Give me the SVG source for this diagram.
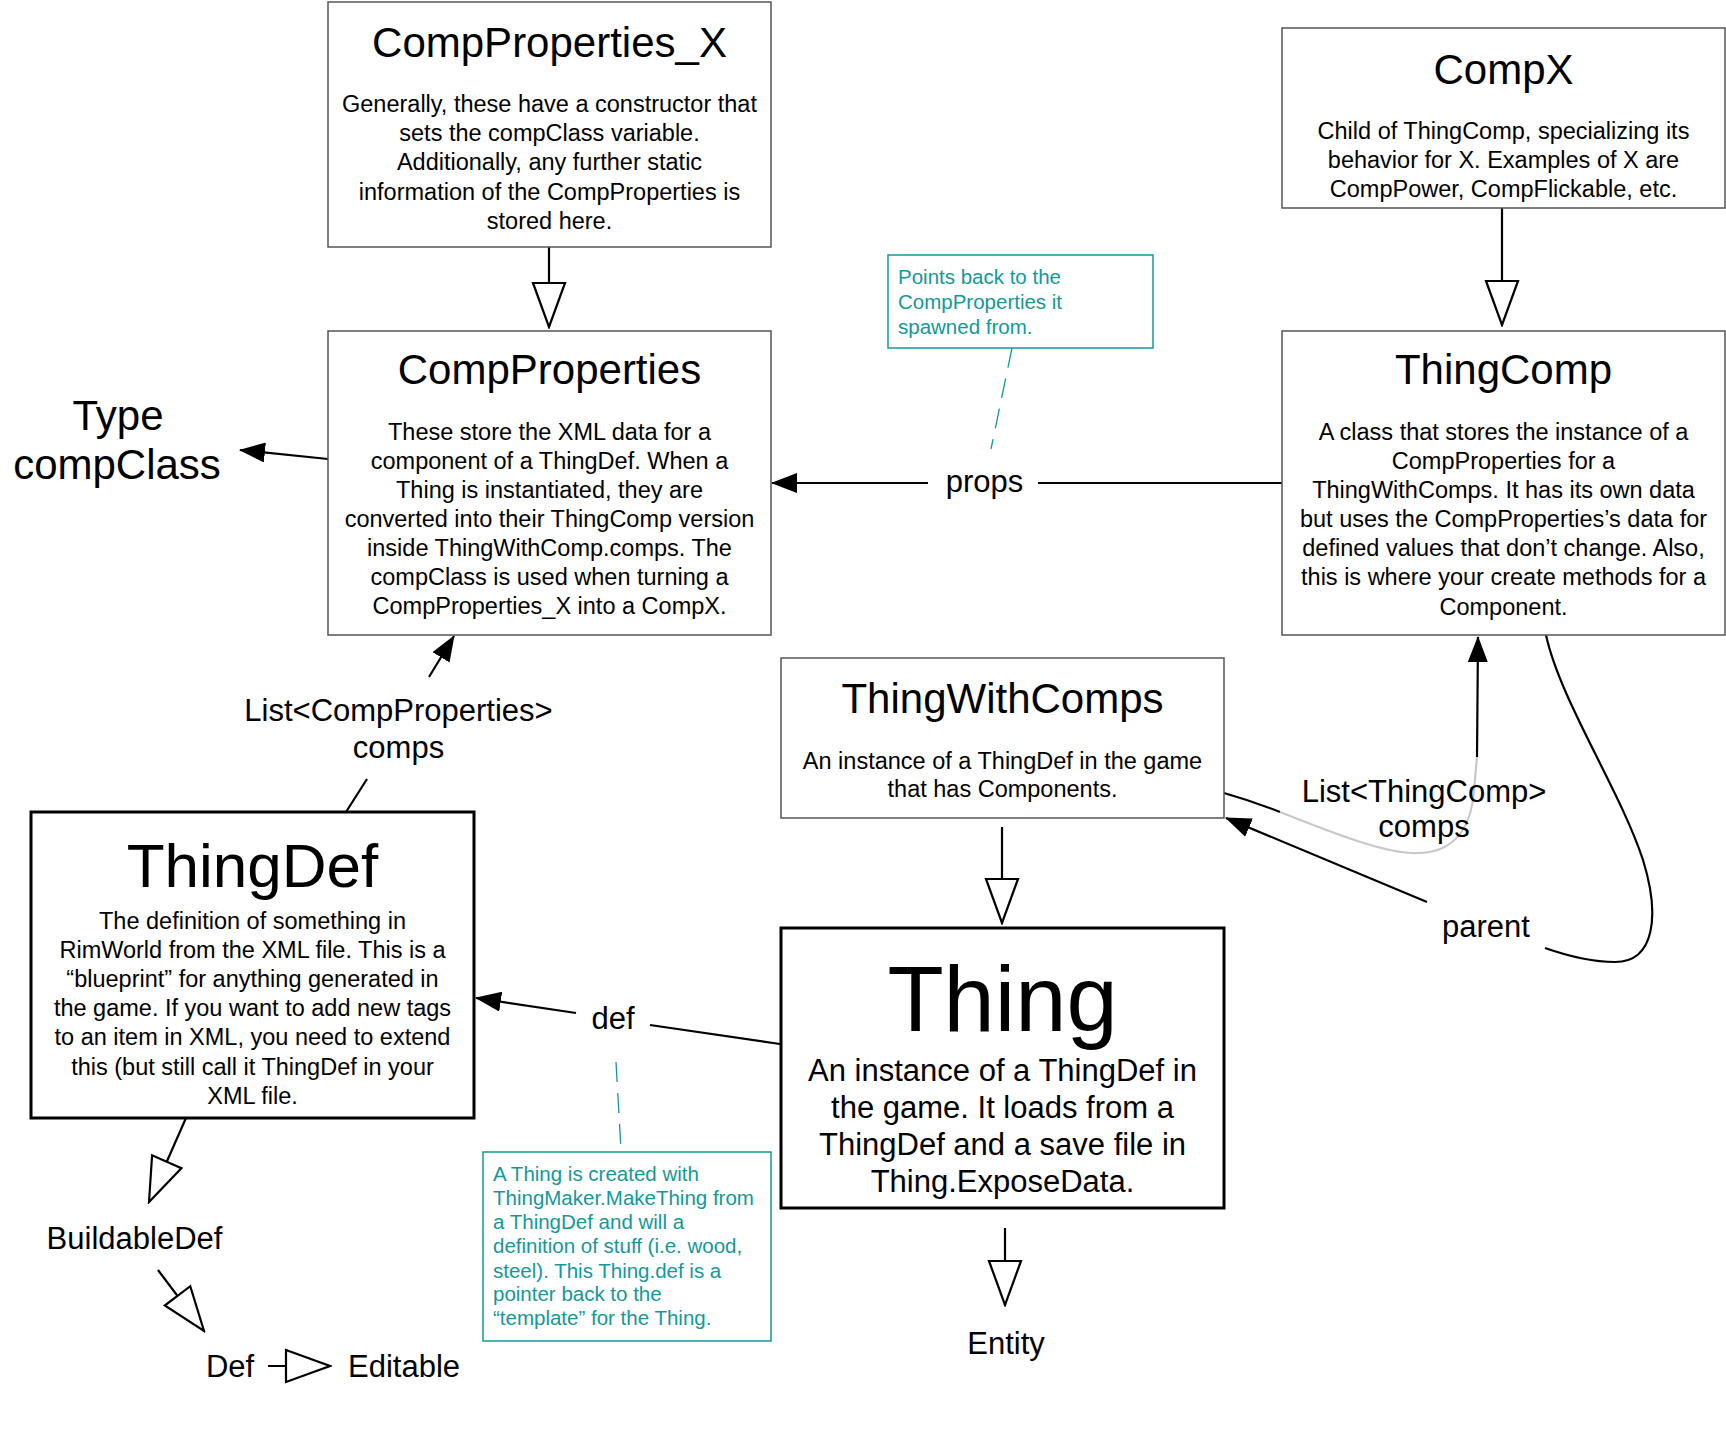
<svg xmlns="http://www.w3.org/2000/svg" width="1726" height="1432" viewBox="0 0 1726 1432">
<style>
text{font-family:"Liberation Sans",Arial,Helvetica,sans-serif;fill:#000}
.box{fill:#fff;stroke:#555;stroke-width:1.5}
.bold{fill:#fff;stroke:#000;stroke-width:3}
.title{font-size:42px;text-anchor:middle}
.body{font-size:23.5px;text-anchor:middle}
.lbl{font-size:31px;text-anchor:middle}
.note{fill:#fff;stroke:#13999a;stroke-width:1.5}
.notet{font-size:20.5px;fill:#13999a}
.c{fill:none;stroke:#000;stroke-width:2.2}
.dash{fill:none;stroke:#13999a;stroke-width:1.3;stroke-dasharray:20 11}
.fa{marker-end:url(#fill)}
.ha{marker-end:url(#hollow)}
</style>
<defs>
<marker id="fill" markerUnits="userSpaceOnUse" viewBox="0 0 26 20" refX="25" refY="10" markerWidth="26" markerHeight="20" orient="auto">
<path d="M0,0 L26,10 L0,20 Z" fill="#000"/>
</marker>
<marker id="hollow" markerUnits="userSpaceOnUse" viewBox="-2 -19 48 38" refX="44" refY="0" markerWidth="48" markerHeight="38" orient="auto">
<path d="M0,-16 L44,0 L0,16 Z" fill="#fff" stroke="#000" stroke-width="2.2"/>
</marker>
</defs>

<g id="connectors">
<line class="c ha" x1="549" y1="247" x2="549" y2="327"/>
<line class="c ha" x1="1502" y1="208" x2="1502" y2="325"/>
<line class="c ha" x1="1002" y1="827" x2="1002" y2="923"/>
<line class="c ha" x1="1005" y1="1228" x2="1005" y2="1305"/>
<line class="c ha" x1="186" y1="1118" x2="149" y2="1202"/>
<line class="c ha" x1="158" y1="1270" x2="204" y2="1331"/>
<line class="c ha" x1="268" y1="1366" x2="330" y2="1366"/>
<line class="c" x1="1282" y1="483" x2="1038" y2="483"/>
<line class="c fa" x1="928" y1="483" x2="772" y2="483"/>
<line class="c fa" x1="328" y1="459" x2="240" y2="450"/>
<line class="c" x1="780" y1="1044" x2="650" y2="1025"/>
<line class="c fa" x1="576" y1="1013" x2="476" y2="998"/>
<line class="c" x1="346" y1="812" x2="367" y2="779"/>
<line class="c fa" x1="429" y1="677" x2="454" y2="636"/>
<path class="c" d="M1224,793 Q1252,801 1280,812"/>
<path d="M1280,812 C1340,836 1390,855 1420,853 C1460,851 1472,820 1474,790 L1477,757" fill="none" stroke="#c8c8c8" stroke-width="2.2"/>
<path class="c fa" d="M1477,757 L1478,637"/>
<path class="c" d="M1546,635 C1560,700 1620,790 1643,860 C1660,915 1655,962 1615,962 C1590,962 1565,955 1545,948"/>
<line class="c fa" x1="1427" y1="902" x2="1226" y2="818"/>
<line class="dash" x1="1012" y1="348" x2="991" y2="449"/>
<line class="dash" x1="616" y1="1062" x2="621" y2="1150"/>
</g>

<g id="CompProperties_X">
<rect class="box" x="328" y="2" width="443" height="245"/>
<text class="title" x="549.5" y="57">CompProperties_X</text>
<text class="body" x="549.5" y="112">Generally, these have a constructor that</text>
<text class="body" x="549.5" y="141">sets the compClass variable.</text>
<text class="body" x="549.5" y="170">Additionally, any further static</text>
<text class="body" x="549.5" y="200">information of the CompProperties is</text>
<text class="body" x="549.5" y="229">stored here.</text>
</g>

<g id="CompX">
<rect class="box" x="1282" y="28" width="443" height="180"/>
<text class="title" x="1503.5" y="84">CompX</text>
<text class="body" x="1503.5" y="139">Child of ThingComp, specializing its</text>
<text class="body" x="1503.5" y="168">behavior for X. Examples of X are</text>
<text class="body" x="1503.5" y="197">CompPower, CompFlickable, etc.</text>
</g>

<g id="CompProperties">
<rect class="box" x="328" y="331" width="443" height="304"/>
<text class="title" x="549.5" y="384">CompProperties</text>
<text class="body" x="549.5" y="440">These store the XML data for a</text>
<text class="body" x="549.5" y="469">component of a ThingDef. When a</text>
<text class="body" x="549.5" y="498">Thing is instantiated, they are</text>
<text class="body" x="549.5" y="527">converted into their ThingComp version</text>
<text class="body" x="549.5" y="556">inside ThingWithComp.comps. The</text>
<text class="body" x="549.5" y="585">compClass is used when turning a</text>
<text class="body" x="549.5" y="614">CompProperties_X into a CompX.</text>
</g>

<g id="ThingComp">
<rect class="box" x="1282" y="331" width="443" height="304"/>
<text class="title" x="1503.5" y="384">ThingComp</text>
<text class="body" x="1503.5" y="440">A class that stores the instance of a</text>
<text class="body" x="1503.5" y="469">CompProperties for a</text>
<text class="body" x="1503.5" y="498">ThingWithComps. It has its own data</text>
<text class="body" x="1503.5" y="527">but uses the CompProperties’s data for</text>
<text class="body" x="1503.5" y="556">defined values that don’t change. Also,</text>
<text class="body" x="1503.5" y="585">this is where your create methods for a</text>
<text class="body" x="1503.5" y="615">Component.</text>
</g>

<g id="ThingWithComps">
<rect class="box" x="781" y="658" width="443" height="160"/>
<text class="title" x="1002.5" y="713">ThingWithComps</text>
<text class="body" x="1002.5" y="769">An instance of a ThingDef in the game</text>
<text class="body" x="1002.5" y="797">that has Components.</text>
</g>

<g id="ThingDef">
<rect class="bold" x="31" y="812" width="443" height="306"/>
<text class="title" x="252.5" y="887" style="font-size:62px">ThingDef</text>
<text class="body" x="252.5" y="929">The definition of something in</text>
<text class="body" x="252.5" y="958">RimWorld from the XML file. This is a</text>
<text class="body" x="252.5" y="987">“blueprint” for anything generated in</text>
<text class="body" x="252.5" y="1016">the game. If you want to add new tags</text>
<text class="body" x="252.5" y="1045">to an item in XML, you need to extend</text>
<text class="body" x="252.5" y="1075">this (but still call it ThingDef in your</text>
<text class="body" x="252.5" y="1104">XML file.</text>
</g>

<g id="Thing">
<rect class="bold" x="781" y="928" width="443" height="280"/>
<text class="title" x="1002.5" y="1031" style="font-size:92px">Thing</text>
<text class="lbl" x="1002.5" y="1081">An instance of a ThingDef in</text>
<text class="lbl" x="1002.5" y="1118">the game. It loads from a</text>
<text class="lbl" x="1002.5" y="1155">ThingDef and a save file in</text>
<text class="lbl" x="1002.5" y="1192">Thing.ExposeData.</text>
</g>

<g id="TypeCompClass">
<text class="title" x="118" y="430">Type</text>
<text class="title" x="117" y="479">compClass</text>
</g>

<g id="BuildableDef"><text class="lbl" x="134.5" y="1249">BuildableDef</text></g>
<g id="Def"><text class="lbl" x="230" y="1377">Def</text></g>
<g id="Editable"><text class="lbl" x="404" y="1377">Editable</text></g>
<g id="Entity"><text class="lbl" x="1006" y="1354">Entity</text></g>

<g id="labels">
<text class="lbl" x="984.5" y="492">props</text>
<text class="lbl" x="398.5" y="721">List&lt;CompProperties&gt;</text>
<text class="lbl" x="398.5" y="758">comps</text>
<text class="lbl" x="1424" y="802">List&lt;ThingComp&gt;</text>
<text class="lbl" x="1424" y="837">comps</text>
<text class="lbl" x="1486" y="937">parent</text>
<text class="lbl" x="613" y="1029">def</text>
</g>

<g id="note_props">
<rect class="note" x="888" y="255" width="265" height="93"/>
<text class="notet" x="898" y="284">Points back to the</text>
<text class="notet" x="898" y="309">CompProperties it</text>
<text class="notet" x="898" y="334">spawned from.</text>
</g>

<g id="note_def">
<rect class="note" x="483" y="1152" width="288" height="189"/>
<text class="notet" x="493" y="1181">A Thing is created with</text>
<text class="notet" x="493" y="1205">ThingMaker.MakeThing from</text>
<text class="notet" x="493" y="1229">a ThingDef and will a</text>
<text class="notet" x="493" y="1253">definition of stuff (i.e. wood,</text>
<text class="notet" x="493" y="1278">steel). This Thing.def is a</text>
<text class="notet" x="493" y="1301">pointer back to the</text>
<text class="notet" x="493" y="1325">“template” for the Thing.</text>
</g>
</svg>
